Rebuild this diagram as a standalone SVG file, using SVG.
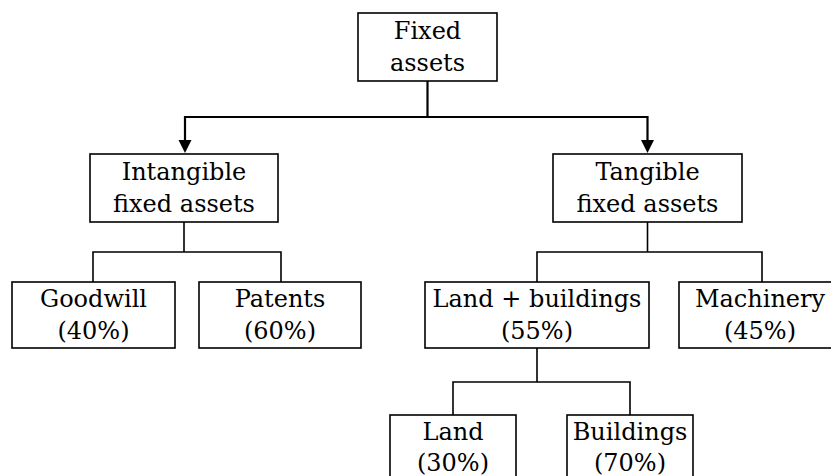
<svg xmlns="http://www.w3.org/2000/svg" width="831" height="476" viewBox="0 0 831 476">
<style>
.box{fill:#fff;stroke:#000;stroke-width:1.6}
.t{font-family:"DejaVu Serif","Liberation Serif",serif;font-size:24px;text-anchor:middle;fill:#000}
.c{fill:none;stroke:#000;stroke-width:1.6}
.a{fill:none;stroke:#000;stroke-width:2.2}
</style>
<defs>
<polygon id="ah" points="-6.5,-13 6.5,-13 0,0" fill="#000"/>
</defs>
<rect width="831" height="476" fill="#fff"/>
<g id="connectors">
<path class="a" d="M427.5,81 V117 H185 V141"/>
<path class="a" d="M427.5,117 H647.5 V141"/>
<use href="#ah" x="185" y="153"/>
<use href="#ah" x="647.5" y="153"/>
<path class="c" d="M184,222 V252 M93,282 V252 H281 V282"/>
<path class="c" d="M647.5,222 V252 M537,282 V252 H762 V282"/>
<path class="c" d="M537,348 V382 M453,415 V382 H630 V415"/>
</g>
<g id="fixed-assets">
<rect class="box" x="358" y="13" width="139" height="68"/>
<text class="t" x="427.5" y="39">Fixed</text>
<text class="t" x="427.5" y="71">assets</text>
</g>
<g id="intangible">
<rect class="box" x="90" y="154" width="188" height="68"/>
<text class="t" x="184" y="180">Intangible</text>
<text class="t" x="184" y="212">fixed assets</text>
</g>
<g id="tangible">
<rect class="box" x="553" y="154" width="189" height="68"/>
<text class="t" x="647.5" y="180">Tangible</text>
<text class="t" x="647.5" y="212">fixed assets</text>
</g>
<g id="goodwill">
<rect class="box" x="12" y="282" width="163" height="66"/>
<text class="t" x="93.5" y="307">Goodwill</text>
<text class="t" x="93.5" y="339">(40%)</text>
</g>
<g id="patents">
<rect class="box" x="199" y="282" width="162" height="66"/>
<text class="t" x="280" y="307">Patents</text>
<text class="t" x="280" y="339">(60%)</text>
</g>
<g id="land-buildings">
<rect class="box" x="425" y="282" width="224" height="66"/>
<text class="t" x="537" y="307">Land + buildings</text>
<text class="t" x="537" y="339">(55%)</text>
</g>
<g id="machinery">
<rect class="box" x="679" y="282" width="166" height="66"/>
<text class="t" x="760" y="307">Machinery</text>
<text class="t" x="760" y="339">(45%)</text>
</g>
<g id="land">
<rect class="box" x="390" y="415" width="126" height="70"/>
<text class="t" x="453" y="440">Land</text>
<text class="t" x="453" y="471">(30%)</text>
</g>
<g id="buildings">
<rect class="box" x="567" y="415" width="126" height="70"/>
<text class="t" x="630" y="440">Buildings</text>
<text class="t" x="630" y="471">(70%)</text>
</g>
</svg>
